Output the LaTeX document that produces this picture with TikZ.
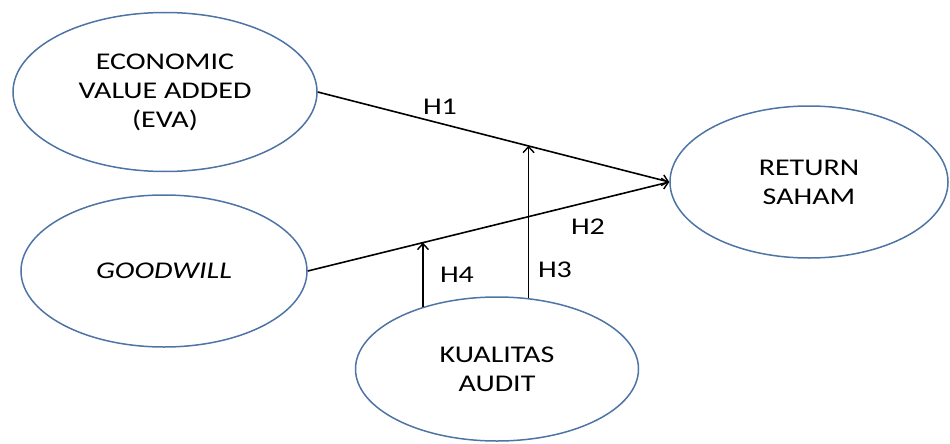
\documentclass[tikz,border=0pt]{standalone}
\usepackage{fontspec}
\setmainfont{Carlito}[FakeStretch=1.25]
\usetikzlibrary{shapes.geometric,arrows.meta,calc}
\definecolor{ellcol}{HTML}{4E74A6}
\begin{document}
\begin{tikzpicture}[x=1pt,y=-1pt,
  var/.style={ellipse,draw=ellcol,line width=1.5pt,inner sep=0pt,align=center,
    font=\fontsize{24}{29}\selectfont},
  link/.style={line width=1.6pt,-{Straight Barb[length=6pt,width=11pt,line width=1.4pt]}},
  hlab/.style={font=\fontsize{24}{29}\selectfont,inner sep=0pt}]
\useasboundingbox (0,0) rectangle (950,444);
\node[var,minimum width=304pt,minimum height=159pt] (eva) at (165,92) {ECONOMIC\\VALUE ADDED\\(EVA)};
\node[var,minimum width=286pt,minimum height=152pt] (gw) at (164,271) {\itshape GOODWILL};
\node[var,minimum width=278pt,minimum height=152pt] (ret) at (809,182) {RETURN\\SAHAM};
\node[var,minimum width=283pt,minimum height=144pt] (ku) at (497,369) {KUALITAS\\AUDIT};
\draw[link] (eva.east) -- (ret.west);
\draw[link] (gw.east) -- (ret.west);
\coordinate (h1m) at ($(eva.east)!0.596!(ret.west)$);
\coordinate (h2m) at ($(gw.east)!0.319!(ret.west)$);
\draw[link] (ku.66) -- (ku.66 |- h1m);
\draw[link] (ku.140) -- (ku.140 |- h2m);
\node[hlab] (l1) at (440,107) {H1};
\node[hlab] (l2) at (588,227) {H2};
\node[hlab] (l3) at (555,270) {H3};
\node[hlab] (l4) at (457,275) {H4};
\end{tikzpicture}
\end{document}
